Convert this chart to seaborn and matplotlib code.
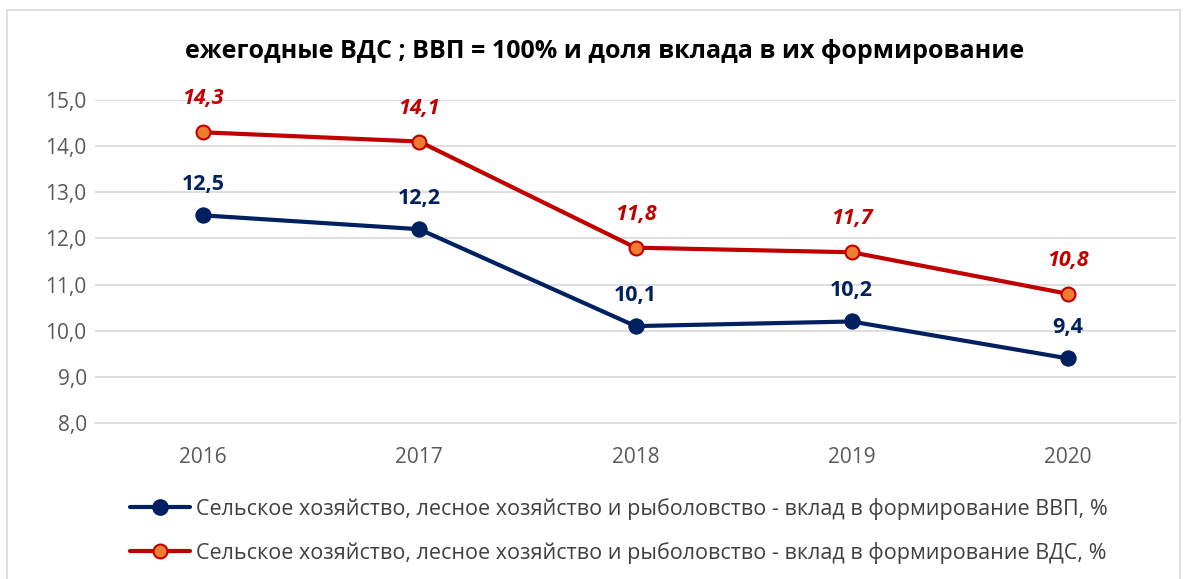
import matplotlib
matplotlib.use("Agg")
import matplotlib.pyplot as plt
import seaborn as sns
import pandas as pd
from matplotlib.lines import Line2D
from matplotlib.patches import Rectangle

years = ["2016", "2017", "2018", "2019", "2020"]
gdp_share = [12.5, 12.2, 10.1, 10.2, 9.4]
gva_share = [14.3, 14.1, 11.8, 11.7, 10.8]
y_ticks = [8.0, 9.0, 10.0, 11.0, 12.0, 13.0, 14.0, 15.0]

title = "ежегодные ВДС ; ВВП = 100% и доля вклада в их формирование"
label_gdp = "Сельское хозяйство, лесное хозяйство и рыболовство - вклад в формирование ВВП, %"
label_gva = "Сельское хозяйство, лесное хозяйство и рыболовство - вклад в формирование ВДС, %"

NAVY = "#002060"
RED = "#C00000"
ORANGE = "#ED7D31"
TICK_GRAY = "#595959"

sns.set_theme(style="white")
plt.rcParams["font.family"] = ["Open Sans", "DejaVu Sans"]

df = pd.DataFrame({
    "year": years * 2,
    "value": gdp_share + gva_share,
    "series": [label_gdp] * len(years) + [label_gva] * len(years),
})

fig = plt.figure(figsize=(11.95, 5.79), dpi=100)
ax = fig.add_axes([95 / 1195, 1 - 423 / 579, (1176 - 95) / 1195, (423 - 100) / 579])

sns.lineplot(data=df[df.series == label_gdp], x="year", y="value", ax=ax,
             color=NAVY, linewidth=3.0, marker="o", markersize=11,
             markerfacecolor=NAVY, markeredgecolor=NAVY, legend=False)
sns.lineplot(data=df[df.series == label_gva], x="year", y="value", ax=ax,
             color=RED, linewidth=3.0, marker="o", markersize=10,
             markerfacecolor=ORANGE, markeredgecolor=RED, markeredgewidth=1.5,
             legend=False)

ax.set_xlim(-0.5, len(years) - 0.5)
ax.set_ylim(8, 15)
ax.set_yticks(y_ticks)
ax.set_yticklabels([f"{t:.1f}".replace(".", ",") for t in y_ticks])
ax.yaxis.grid(True, color="#D9D9D9", linewidth=1.2)
ax.set_axisbelow(True)
for s in ax.spines.values():
    s.set_visible(False)
ax.spines["bottom"].set_visible(True)
ax.spines["bottom"].set_color("#D9D9D9")
ax.spines["bottom"].set_linewidth(1.2)
ax.tick_params(axis="both", length=0, labelsize=15, colors=TICK_GRAY)
ax.tick_params(axis="y", pad=6)
ax.tick_params(axis="x", pad=17)
ax.set_xlabel("")
ax.set_ylabel("")

for i, v in enumerate(gdp_share):
    ax.annotate(f"{v:.1f}".replace(".", ","), (i, v), xytext=(0, 22),
                textcoords="offset points", ha="center", va="center",
                color=NAVY, fontsize=15.5, fontweight="bold")
for i, v in enumerate(gva_share):
    ax.annotate(f"{v:.1f}".replace(".", ","), (i, v), xytext=(0, 24),
                textcoords="offset points", ha="center", va="center",
                color=RED, fontsize=15.5, fontweight="bold", fontstyle="italic")

fig.text(605 / 1195, 1 - 52 / 579, title, ha="center", va="center",
         fontsize=18, fontweight="bold", color="black")

handles = [
    Line2D([], [], color=NAVY, linewidth=3.0, marker="o", markersize=11,
           markerfacecolor=NAVY, markeredgecolor=NAVY),
    Line2D([], [], color=RED, linewidth=3.0, marker="o", markersize=10,
           markerfacecolor=ORANGE, markeredgecolor=RED, markeredgewidth=1.5),
]
fig.legend(handles, [label_gdp, label_gva], loc="upper left",
           bbox_to_anchor=(130 / 1195, 1 - 498 / 579), frameon=False,
           fontsize=15.5, labelcolor="#404040", handlelength=2.8,
           handletextpad=0.25, labelspacing=1.0, borderaxespad=0,
           borderpad=0)

fig.patches.append(Rectangle((7 / 1195, -0.01), (1180 - 7) / 1195, 1 - 10 / 579 + 0.01,
                             transform=fig.transFigure, fill=False,
                             edgecolor="#D9D9D9", linewidth=1.2))

fig.savefig("out.png", dpi=100)
